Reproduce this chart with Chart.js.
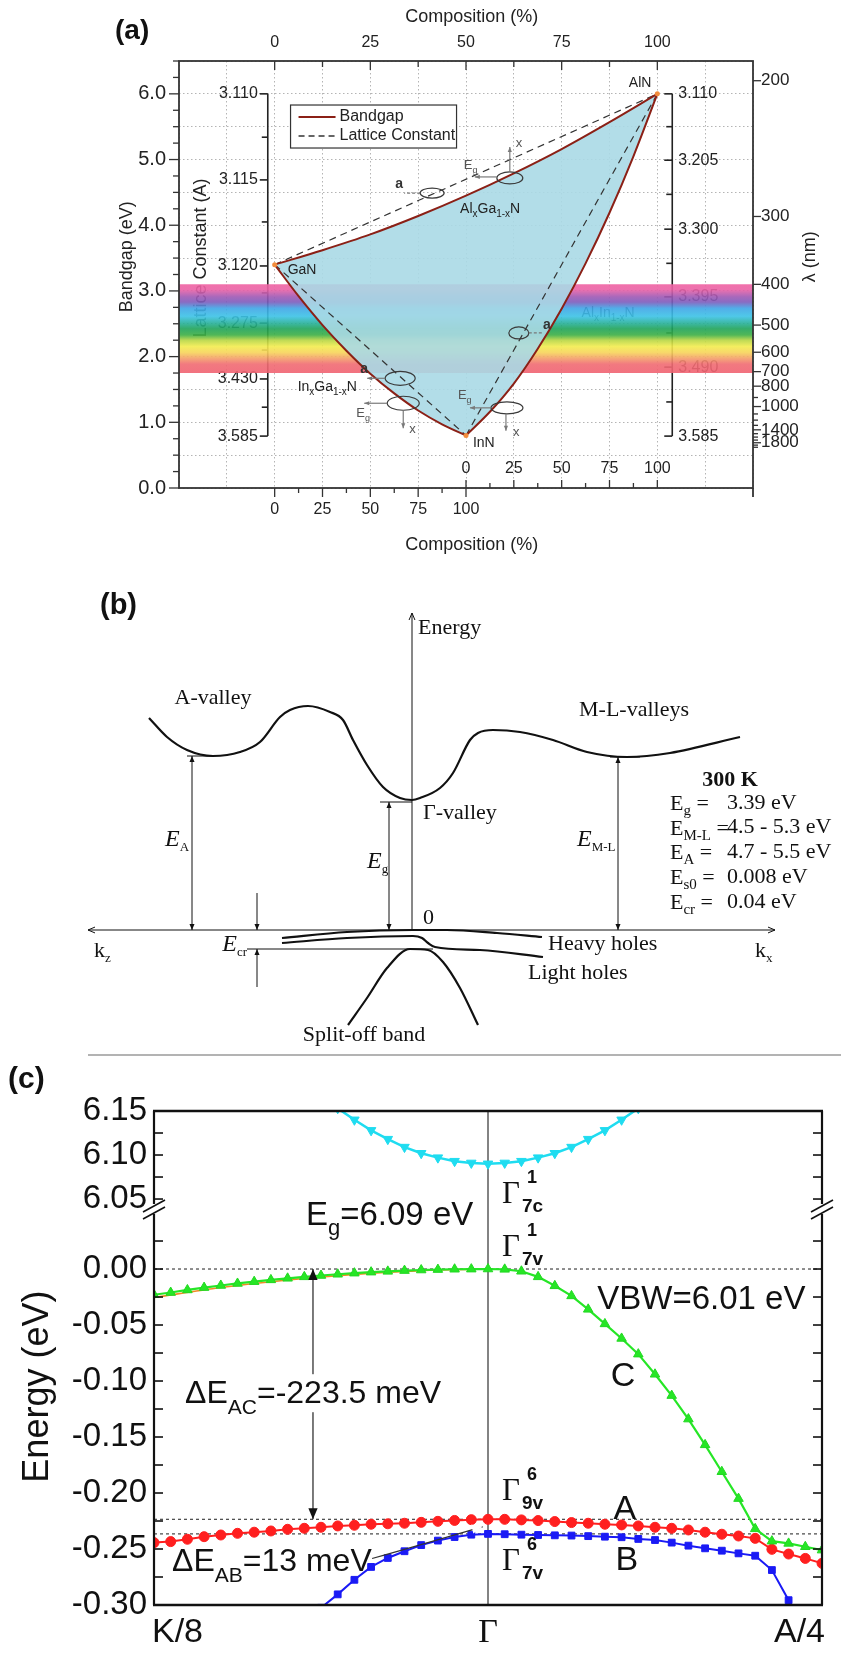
<!DOCTYPE html>
<html>
<head>
<meta charset="utf-8">
<title>Nitride bandgaps and band structure</title>
<script src="https://cdn.jsdelivr.net/npm/chart.js@4.4.1/dist/chart.umd.min.js"></script>
<style>
  html, body { margin: 0; padding: 0; background: #fff; }
  #page { position: relative; width: 841px; height: 1663px; overflow: hidden; }
  #page canvas { position: absolute; left: 0; top: 0; }
</style>
</head>
<body>
<div id="page">
  <canvas id="chartA" width="841" height="1663"></canvas>
  <canvas id="chartB" width="841" height="1663"></canvas>
  <canvas id="chartCU" width="841" height="1663"></canvas>
  <canvas id="chartCL" width="841" height="1663"></canvas>
</div>
<script>
// Composite nitride figure: (a) Eg vs composition, (b) GaN band schematic, (c) AlN bands near Gamma
// Each panel is its own Chart.js chart on a full-page canvas; extra axes/labels come from small plugins.

const SANS = '"Liberation Sans", Arial, Helvetica, sans-serif';
const SERIF = '"Liberation Serif", "Times New Roman", Times, serif';

// ---------- (a) bandgap vs composition ----------
// x = position on the bottom composition axis: InGaN runs 0..100, AlInN 100..200, AlGaN 0..200
const inganX = [0, 12.5, 25, 37.5, 50, 62.5, 75, 87.5, 100];
const inganEg = [3.40, 2.92, 2.48, 2.09, 1.74, 1.44, 1.18, 0.97, 0.80];
const alganX = [0, 25, 50, 75, 100, 125, 150, 175, 200];
const alganEg = [3.40, 3.62, 3.86, 4.14, 4.45, 4.79, 5.16, 5.57, 6.00];
const alinnX = [100, 112.5, 125, 137.5, 150, 162.5, 175, 187.5, 200];
const alinnEg = [0.80, 1.16, 1.59, 2.12, 2.73, 3.42, 4.19, 5.05, 6.00];
const binaryNames = ['GaN', 'AlN', 'InN'];
const binaryX = [0, 200, 100];
const binaryEg = [3.40, 6.00, 0.80];
const visibleEg = [3.10, 1.75];

const compTickLabels = ['0', '25', '50', '75', '100'];
const gapTickLabels = ['0.0', '1.0', '2.0', '3.0', '4.0', '5.0', '6.0'];
const lambdaLabels = [200, 300, 400, 500, 600, 700, 800, 1000, 1400, 1800];
const lambdaMinor = [900, 1100, 1200, 1300, 1500, 1600, 1700, 1900, 2000];
const latLeftLabels = ['3.110', '3.115', '3.120', '3.275', '3.430', '3.585'];
const latLeftEg = [6.00, 4.69, 3.38, 2.51, 1.66, 0.79];
const latLeftMinorEg = [5.34, 4.05, 2.97, 2.10, 1.23];
const latRightLabels = ['3.110', '3.205', '3.300', '3.395', '3.490', '3.585'];
const latRightEg = [6.00, 4.99, 3.94, 2.91, 1.84, 0.79];
const latRightMinorEg = [5.50, 4.47, 3.42, 2.36, 1.31];

// ---------- (b) GaN band schematic (arbitrary k / energy units) ----------
const cbK = [-2.63, -2.45, -2.25, -1.99, -1.72, -1.52, -1.32, -1.22, -1.04, -0.82, -0.69, -0.59, -0.45, -0.29,
  -0.12, 0, 0.08, 0.28, 0.41, 0.58, 0.66, 0.81, 1.08, 1.41, 1.75, 2.15, 2.58, 3.28];
const cbE = [2.12, 1.93, 1.80, 1.74, 1.78, 1.88, 2.13, 2.20, 2.24, 2.18, 2.10, 1.90, 1.65, 1.43,
  1.32, 1.30, 1.32, 1.42, 1.57, 1.90, 1.97, 2.00, 1.98, 1.90, 1.78, 1.73, 1.77, 1.93];
const hhK = [-1.30, -0.65, 0.01, 0.35, 0.85, 1.30];
const hhE = [-0.08, -0.02, 0, 0, -0.03, -0.07];
const lhK = [-1.30, -0.65, 0.01, 0.10, 0.16, 0.23, 0.68, 1.31];
const lhE = [-0.13, -0.08, -0.06, -0.08, -0.13, -0.17, -0.20, -0.27];
const soK = [-0.64, -0.45, -0.25, -0.02, 0.16, 0.31, 0.48, 0.66];
const soE = [-0.95, -0.68, -0.38, -0.19, -0.20, -0.32, -0.58, -0.95];
const paramNames = [['E', 'g', ' = '], ['E', 'M-L', ' ='], ['E', 'A', ' = '], ['E', 's0', ' = '], ['E', 'cr', ' = ']];
const paramValues = ['3.39 eV', '4.5 - 5.3 eV', '4.7 - 5.5 eV', '0.008 eV', '0.04 eV'];

// ---------- (c) AlN bands between K/8 and A/4 (Gamma at 0) ----------
const kGrid = [-1.00, -0.95, -0.90, -0.85, -0.80, -0.75, -0.70, -0.65, -0.60, -0.55, -0.50, -0.45, -0.40,
  -0.35, -0.30, -0.25, -0.20, -0.15, -0.10, -0.05, 0.00, 0.05, 0.10, 0.15, 0.20, 0.25, 0.30, 0.35, 0.40,
  0.45, 0.50, 0.55, 0.60, 0.65, 0.70, 0.75, 0.80, 0.85, 0.90, 0.95, 1.00];
const bandC = [-0.0230, -0.0210, -0.0187, -0.0166, -0.0147, -0.0129, -0.0113, -0.0097, -0.0083, -0.0070,
  -0.0058, -0.0047, -0.0037, -0.0028, -0.0021, -0.0014, -0.0009, -0.0005, -0.0002, -0.0001, 0.0000,
  -0.0003, -0.0020, -0.0070, -0.0150, -0.0240, -0.0360, -0.0490, -0.0620, -0.0760, -0.0940, -0.1130,
  -0.1340, -0.1570, -0.1810, -0.2050, -0.2320, -0.2430, -0.2450, -0.2480, -0.2510];
const bandA = [-0.2443, -0.2434, -0.2413, -0.2390, -0.2375, -0.2360, -0.2350, -0.2339, -0.2324, -0.2315,
  -0.2306, -0.2294, -0.2288, -0.2279, -0.2275, -0.2270, -0.2262, -0.2253, -0.2245, -0.2238, -0.2235,
  -0.2235, -0.2240, -0.2246, -0.2255, -0.2264, -0.2270, -0.2279, -0.2285, -0.2294, -0.2306, -0.2315,
  -0.2330, -0.2350, -0.2368, -0.2384, -0.2405, -0.2503, -0.2545, -0.2584, -0.2628];
const kB = [-0.50, -0.45, -0.40, -0.35, -0.30, -0.25, -0.20, -0.15, -0.10, -0.05, 0.00, 0.05, 0.10, 0.15,
  0.20, 0.25, 0.30, 0.35, 0.40, 0.45, 0.50, 0.55, 0.60, 0.65, 0.70, 0.75, 0.80, 0.85, 0.90, 0.95];
const bandB = [-0.3025, -0.2905, -0.2775, -0.2660, -0.2580, -0.2520, -0.2465, -0.2425, -0.2393, -0.2372,
  -0.2365, -0.2368, -0.2372, -0.2375, -0.2378, -0.2380, -0.2385, -0.2390, -0.2395, -0.2410, -0.2420,
  -0.2443, -0.2470, -0.2494, -0.2515, -0.2539, -0.2560, -0.2688, -0.2957, -0.3400];
const kOrange = [-1.0, -0.8, -0.6, -0.4, -0.2, 0];
const bandOrange = [-0.0255, -0.0165, -0.0098, -0.0048, -0.0014, 0];
const kCond = [-0.45, -0.40, -0.35, -0.30, -0.25, -0.20, -0.15, -0.10, -0.05, 0.00, 0.05, 0.10, 0.15, 0.20,
  0.25, 0.30, 0.35, 0.40, 0.45];
const bandCond = [6.153, 6.140, 6.128, 6.118, 6.109, 6.102, 6.097, 6.093, 6.091, 6.090, 6.091, 6.093, 6.097,
  6.102, 6.109, 6.118, 6.128, 6.140, 6.153];
const refLevels = [0, -0.2235, -0.2365];
const upperTickLabels = ['6.15', '6.10', '6.05'];
const upperMinor = [6.125, 6.075];
const lowerTickLabels = ['0.00', '-0.05', '-0.10', '-0.15', '-0.20', '-0.25', '-0.30'];
const lowerMinor = [0.025, -0.025, -0.075, -0.125, -0.175, -0.225, -0.275];
const kTickLabels = ['K/8', 'Γ', 'A/4'];

// ---------- helpers ----------
const pairs = (xs, ys) => xs.map((v, i) => ({ x: v, y: ys[i] }));
const font = (size, fam, style) => (style ? style + ' ' : '') + size + 'px ' + fam;

function seg(ctx, x1, y1, x2, y2) {
  ctx.beginPath(); ctx.moveTo(x1, y1); ctx.lineTo(x2, y2); ctx.stroke();
}

function text(ctx, s, x, y, f, align, color) {
  ctx.save();
  ctx.font = f; ctx.fillStyle = color || '#111';
  ctx.textAlign = align || 'left'; ctx.textBaseline = 'middle';
  ctx.fillText(s, x, y);
  ctx.restore();
}

// parts: [string, font, baseline offset]; y is the baseline
function rich(ctx, parts, x, y, align, color) {
  ctx.save();
  ctx.textBaseline = 'alphabetic'; ctx.textAlign = 'left'; ctx.fillStyle = color || '#111';
  let w = 0;
  parts.forEach(p => { ctx.font = p[1]; w += ctx.measureText(p[0]).width; });
  let cx = align === 'center' ? x - w / 2 : align === 'right' ? x - w : x;
  parts.forEach(p => { ctx.font = p[1]; ctx.fillText(p[0], cx, y + (p[2] || 0)); cx += ctx.measureText(p[0]).width; });
  ctx.restore();
  return w;
}

function head(ctx, hx, hy, fx, fy, len, open) {
  const a = Math.atan2(hy - fy, hx - fx), w = len * 0.42;
  const bx = hx - len * Math.cos(a), by = hy - len * Math.sin(a);
  const lx = bx + w * Math.sin(a), ly = by - w * Math.cos(a);
  const rx = bx - w * Math.sin(a), ry = by + w * Math.cos(a);
  ctx.beginPath();
  if (open) { ctx.moveTo(lx, ly); ctx.lineTo(hx, hy); ctx.lineTo(rx, ry); ctx.stroke(); }
  else { ctx.moveTo(hx, hy); ctx.lineTo(lx, ly); ctx.lineTo(rx, ry); ctx.closePath(); ctx.fill(); }
}

function rotated(ctx, s, x, y, f, color) {
  ctx.save();
  ctx.translate(x, y); ctx.rotate(-Math.PI / 2);
  text(ctx, s, 0, 0, f, 'center', color);
  ctx.restore();
}

function makeChart(id, datasets, scales, padding, plugin) {
  return new Chart(document.getElementById(id), {
    type: 'line',
    data: { datasets },
    options: {
      responsive: false, animation: false, events: [],
      layout: { autoPadding: false, padding },
      plugins: { legend: { display: false }, tooltip: { enabled: false } },
      scales
    },
    plugins: [plugin]
  });
}

// ================= panel (a) =================
function bandGradient(c) {
  const chart = c.chart, y = chart.scales.y;
  if (!chart.chartArea || !y) return 'rgba(0,0,0,0)';
  const g = chart.ctx.createLinearGradient(0, y.getPixelForValue(visibleEg[0]), 0, y.getPixelForValue(visibleEg[1]));
  [[0, 'rgba(239,98,162,0.9)'], [0.06, 'rgba(234,98,166,0.9)'], [0.14, 'rgba(159,88,180,0.9)'],
   [0.20, 'rgba(125,92,188,0.9)'], [0.27, 'rgba(63,165,230,0.9)'], [0.36, 'rgba(60,194,230,0.9)'],
   [0.44, 'rgba(39,176,152,0.9)'], [0.50, 'rgba(31,163,90,0.9)'], [0.57, 'rgba(61,175,69,0.9)'],
   [0.63, 'rgba(183,214,67,0.9)'], [0.70, 'rgba(242,236,78,0.9)'], [0.77, 'rgba(247,211,90,0.9)'],
   [0.84, 'rgba(243,154,106,0.9)'], [0.90, 'rgba(240,107,114,0.9)'], [1, 'rgba(240,98,114,0.9)']]
    .forEach(s => g.addColorStop(s[0], s[1]));
  return g;
}

function latticeAxis(ctx, y, px, eg, labels, minor, side) {
  ctx.save();
  ctx.strokeStyle = '#222'; ctx.lineWidth = 1.6;
  seg(ctx, px, y.getPixelForValue(eg[0]), px, y.getPixelForValue(eg[eg.length - 1]));
  eg.forEach(e => seg(ctx, px - 8, y.getPixelForValue(e), px, y.getPixelForValue(e)));
  minor.forEach(e => seg(ctx, px - 6, y.getPixelForValue(e), px, y.getPixelForValue(e)));
  labels.forEach((s, i) => {
    const py = y.getPixelForValue(eg[i]);
    if (side === 'left') text(ctx, s, px - 10, py, font(16, SANS), 'right', '#222');
    else text(ctx, s, px + 6, py, font(16, SANS), 'left', '#222');
  });
  ctx.restore();
}

const alloy = (a, b, c, d, e) => [[a, font(14, SANS)], [b, font(10, SANS), 4], [c, font(14, SANS)], [d, font(10, SANS), 4], [e, font(14, SANS)]];

const panelA = {
  id: 'panelA',
  beforeDatasetsDraw(chart) {
    const { ctx, scales: { x, y } } = chart;
    // lattice constant scales sit under the colour band
    latticeAxis(ctx, y, x.getPixelForValue(-3.6), latLeftEg, latLeftLabels, latLeftMinorEg, 'left');
    latticeAxis(ctx, y, x.getPixelForValue(207.8), latRightEg, latRightLabels, latRightMinorEg, 'right');
    rotated(ctx, 'Lattice Constant (A)', x.getPixelForValue(-38.5), y.getPixelForValue(3.5), font(18, SANS), '#222');
    rich(ctx, alloy('Al', 'x', 'In', '1-x', 'N'), x.getPixelForValue(160.4), y.getPixelForValue(2.68) + 5, 'left', '#222');
  },
  afterDatasetsDraw(chart) {
    const { ctx, chartArea: ca, scales: { x, y, xTop, xIn } } = chart;
    const P = (xv, ev) => [x.getPixelForValue(xv), y.getPixelForValue(ev)];
    ctx.save();
    ctx.strokeStyle = '#333'; ctx.fillStyle = '#333'; ctx.lineWidth = 1.8;
    ctx.strokeRect(ca.left, ca.top, ca.width, ca.height);
    seg(ctx, ca.right, ca.bottom, ca.right, ca.bottom + 9);
    ctx.lineWidth = 1.3;
    // bandgap axis, ticks every 0.25 eV
    for (let k = 0; k <= 26; k++) {
      const py = y.getPixelForValue(k * 0.25);
      seg(ctx, ca.left - (k % 4 === 0 ? 10 : 6), py, ca.left, py);
    }
    gapTickLabels.forEach(s => text(ctx, s, ca.left - 13, y.getPixelForValue(+s), font(20, SANS), 'right', '#222'));
    rotated(ctx, 'Bandgap (eV)', ca.left - 52, y.getPixelForValue(3.52), font(18, SANS), '#222');
    // top composition axis (AlGaN)
    for (let k = 0; k <= 8; k++) {
      const px = xTop.getPixelForValue(k * 12.5);
      seg(ctx, px, ca.top, px, ca.top + (k % 2 ? 6 : 9));
    }
    compTickLabels.forEach(s => text(ctx, s, xTop.getPixelForValue(+s), ca.top - 18, font(16, SANS), 'center', '#222'));
    text(ctx, 'Composition (%)', x.getPixelForValue(103), ca.top - 44, font(18, SANS), 'center', '#222');
    // bottom composition axis (InGaN), outward ticks
    for (let k = 0; k <= 8; k++) {
      const px = x.getPixelForValue(k * 12.5);
      seg(ctx, px, ca.bottom, px, ca.bottom + (k % 2 ? 5 : 9));
    }
    compTickLabels.forEach(s => text(ctx, s, x.getPixelForValue(+s), ca.bottom + 22, font(16, SANS), 'center', '#222'));
    text(ctx, 'Composition (%)', x.getPixelForValue(103), ca.bottom + 57, font(18, SANS), 'center', '#222');
    // inner AlInN composition scale, inward ticks
    for (let k = 0; k <= 8; k++) {
      const px = xIn.getPixelForValue(k * 12.5);
      seg(ctx, px, ca.bottom, px, ca.bottom - (k % 2 ? 5 : 8));
    }
    compTickLabels.forEach(s => text(ctx, s, xIn.getPixelForValue(+s), ca.bottom - 19, font(16, SANS), 'center', '#222'));
    // wavelength axis, lambda = 1240 / Eg
    lambdaLabels.forEach(l => {
      const py = y.getPixelForValue(1240 / l);
      seg(ctx, ca.right, py, ca.right + 8, py);
      text(ctx, String(l), ca.right + 8, py, font(17, SANS), 'left', '#222');
    });
    lambdaMinor.forEach(l => { const py = y.getPixelForValue(1240 / l); seg(ctx, ca.right, py, ca.right + 5, py); });
    rotated(ctx, 'λ (nm)', ca.right + 57, y.getPixelForValue(3.52), font(18, SANS), '#222');

    // legend
    const [lx, ly] = P(8.3, 5.83);
    ctx.fillStyle = '#fff'; ctx.fillRect(lx, ly, 166, 43);
    ctx.strokeStyle = '#333'; ctx.lineWidth = 1.2; ctx.strokeRect(lx, ly, 166, 43);
    ctx.strokeStyle = '#8b2016'; ctx.lineWidth = 2; seg(ctx, lx + 8, ly + 12, lx + 45, ly + 12);
    ctx.strokeStyle = '#333'; ctx.lineWidth = 1.3; ctx.setLineDash([6, 4]); seg(ctx, lx + 8, ly + 31, lx + 45, ly + 31); ctx.setLineDash([]);
    text(ctx, 'Bandgap', lx + 49, ly + 12, font(16, SANS), 'left', '#222');
    text(ctx, 'Lattice Constant', lx + 49, ly + 31, font(16, SANS), 'left', '#222');

    // binary and alloy names
    text(ctx, binaryNames[0], P(6.8, 3.32)[0], P(6.8, 3.32)[1], font(14, SANS), 'left', '#222');
    text(ctx, binaryNames[1], P(196.9, 6.16)[0], P(196.9, 6.16)[1], font(14, SANS), 'right', '#222');
    text(ctx, binaryNames[2], P(103.6, 0.68)[0], P(103.6, 0.68)[1], font(14, SANS), 'left', '#222');
    rich(ctx, alloy('Al', 'x', 'Ga', '1-x', 'N'), P(96.9, 4.26)[0], P(96.9, 4.26)[1] + 5, 'left', '#222');
    rich(ctx, alloy('In', 'x', 'Ga', '1-x', 'N'), P(12, 1.55)[0], P(12, 1.55)[1] + 5, 'left', '#222');

    // small read-out ellipses with their a / Eg / x pointers
    ctx.lineWidth = 1.2;
    const ell = (xv, ev, rx, ry) => {
      const [cx, cy] = P(xv, ev);
      ctx.strokeStyle = '#3a3a3a'; ctx.beginPath(); ctx.ellipse(cx, cy, rx, ry, 0, 0, Math.PI * 2); ctx.stroke();
      ctx.strokeStyle = '#7a7a7a'; ctx.fillStyle = '#7a7a7a';
      return [cx, cy];
    };
    const pointer = (x1, y1, x2, y2) => { seg(ctx, x1, y1, x2, y2); head(ctx, x2, y2, x1, y1, 5); };
    const egLabel = (px, py) => rich(ctx, [['E', font(13, SANS)], ['g', font(9, SANS), 4]], px, py + 4, 'left', '#555');
    const aLabel = (px, py) => text(ctx, 'a', px, py, font(14, SANS, 'bold'), 'center', '#333');
    const xLabel = (px, py) => text(ctx, 'x', px, py, font(13, SANS), 'left', '#555');
    let c;
    c = ell(82.3, 4.49, 12, 5);
    ctx.setLineDash([3, 2]); seg(ctx, c[0] - 12, c[1], c[0] - 28, c[1]); ctx.setLineDash([]);
    aLabel(c[0] - 33, c[1] - 9);
    c = ell(122.9, 4.72, 13, 6);
    pointer(c[0] - 13, c[1] - 1, c[0] - 35, c[1] - 1); egLabel(c[0] - 46, c[1] - 13);
    pointer(c[0], c[1] - 6, c[0], c[1] - 31); xLabel(c[0] + 6, c[1] - 35);
    c = ell(65.6, 1.67, 15, 7);
    pointer(c[0] - 15, c[1], c[0] - 33, c[1]); aLabel(c[0] - 36, c[1] - 9);
    c = ell(67.2, 1.29, 16, 7);
    pointer(c[0] - 16, c[1], c[0] - 39, c[1]); egLabel(c[0] - 47, c[1] + 10);
    pointer(c[0], c[1] + 7, c[0], c[1] + 25); xLabel(c[0] + 6, c[1] + 26);
    c = ell(127.6, 2.36, 10, 6);
    ctx.setLineDash([3, 2]); seg(ctx, c[0] + 10, c[1], c[0] + 24, c[1]); ctx.setLineDash([]);
    aLabel(c[0] + 28, c[1] - 8);
    c = ell(121.4, 1.22, 16, 6);
    pointer(c[0] - 16, c[1], c[0] - 37, c[1]); egLabel(c[0] - 49, c[1] - 13);
    pointer(c[0] - 1, c[1] + 6, c[0] - 1, c[1] + 23); xLabel(c[0] + 6, c[1] + 25);

    text(ctx, '(a)', 115, ca.top - 30, font(28, SANS, 'bold'), 'left', '#111');
    ctx.restore();
  }
};

const gridA = { color: '#b4b4b4', lineWidth: 1, drawTicks: false };
const borderA = { display: false, dash: [1.5, 2.5] };
makeChart('chartA', [
  { label: 'AlGaN', data: pairs(alganX, alganEg), borderColor: '#8b2016', borderWidth: 2, pointRadius: 0, cubicInterpolationMode: 'monotone', fill: false, order: 1 },
  { label: 'InGaN', data: pairs(inganX, inganEg), borderColor: '#8b2016', borderWidth: 2, pointRadius: 0, cubicInterpolationMode: 'monotone', fill: false, order: 1 },
  { label: 'AlInN', data: pairs(alinnX, alinnEg), borderColor: '#8b2016', borderWidth: 2, pointRadius: 0, cubicInterpolationMode: 'monotone', fill: false, order: 1 },
  { label: 'a GaN-AlN', data: pairs([binaryX[0], binaryX[1]], [binaryEg[0], binaryEg[1]]), borderColor: '#333', borderWidth: 1.2, borderDash: [7, 5], pointRadius: 0, fill: false, order: 2 },
  { label: 'a AlN-InN', data: pairs([binaryX[2], binaryX[1]], [binaryEg[2], binaryEg[1]]), borderColor: '#333', borderWidth: 1.2, borderDash: [7, 5], pointRadius: 0, fill: false, order: 2 },
  { label: 'a GaN-InN', data: pairs([binaryX[0], binaryX[2]], [binaryEg[0], binaryEg[2]]), borderColor: '#333', borderWidth: 1.2, borderDash: [7, 5], pointRadius: 0, fill: false, order: 2 },
  { label: 'binaries', data: pairs(binaryX, binaryEg), showLine: false, pointRadius: 2.5, pointBackgroundColor: '#f28c3c', pointBorderWidth: 0, order: 0 },
  { label: 'alloy range', data: pairs(inganX.concat(alinnX.slice(1)), inganEg.concat(alinnEg.slice(1))), borderWidth: 0, pointRadius: 0, fill: 0, backgroundColor: 'rgba(170,217,230,0.9)', order: 5 },
  { label: 'visible', data: [{ x: -50, y: visibleEg[0] }, { x: 250, y: visibleEg[0] }], borderWidth: 0, pointRadius: 0, fill: { value: visibleEg[1] }, backgroundColor: bandGradient, order: 6 }
], {
  x: { type: 'linear', min: -50, max: 250, ticks: { display: false, stepSize: 25 }, grid: gridA, border: borderA },
  y: { type: 'linear', min: 0, max: 6.5, ticks: { display: false, stepSize: 0.5 }, grid: gridA, border: borderA },
  xTop: { type: 'linear', axis: 'x', position: 'top', min: -25, max: 125, display: false },
  xIn: { type: 'linear', axis: 'x', position: 'bottom', min: -150, max: 150, display: false }
}, { left: 179, right: 88, top: 61, bottom: 1175 }, panelA);

// ================= panel (b) =================
const panelB = {
  id: 'panelB',
  afterDatasetsDraw(chart) {
    const { ctx, chartArea: ca, scales: { x, y } } = chart;
    const P = (k, e) => [x.getPixelForValue(k), y.getPixelForValue(e)];
    ctx.save();
    ctx.strokeStyle = '#111'; ctx.fillStyle = '#111'; ctx.lineWidth = 1;
    // axes
    const o = P(0, 0), top = P(0, 3.17), l = P(-3.24, 0), r = P(3.63, 0);
    seg(ctx, o[0], o[1], top[0], top[1]); head(ctx, top[0], top[1], o[0], o[1], 7, true);
    seg(ctx, l[0], l[1], r[0], r[1]);
    head(ctx, l[0], l[1], r[0], r[1], 7, true); head(ctx, r[0], r[1], l[0], l[1], 7, true);
    // valley energies measured from the valence band top
    [[-2.20, cbE[3], -2.25, -1.99], [-0.23, cbE[15] - 0.02, -0.32, 0], [2.06, cbE[25], 1.98, 2.28]].forEach(g => {
      const a = P(g[0], 0), b = P(g[0], g[1]);
      seg(ctx, a[0], a[1], b[0], b[1]);
      head(ctx, a[0], a[1], b[0], b[1], 6); head(ctx, b[0], b[1], a[0], a[1], 6);
      seg(ctx, P(g[2], g[1])[0], b[1], P(g[3], g[1])[0], b[1]);
    });
    // crystal-field splitting
    const cr = soE[3];
    let a = P(-1.55, 0.37), b = P(-1.55, 0);
    seg(ctx, a[0], a[1], b[0], b[1]); head(ctx, b[0], b[1], a[0], a[1], 6);
    a = P(-1.55, -0.57); b = P(-1.55, cr);
    seg(ctx, a[0], a[1], b[0], b[1]); head(ctx, b[0], b[1], a[0], a[1], 6);
    seg(ctx, P(-1.65, cr)[0], b[1], P(0.21, cr)[0], b[1]);

    const f22 = font(22, SERIF), fi = font(24, SERIF, 'italic'), fs = font(13, SERIF);
    const T = (s, k, e, al, f) => { const p = P(k, e); text(ctx, s, p[0], p[1], f || f22, al || 'left', '#111'); };
    T('Energy', 0.06, 3.02);
    T('A-valley', -1.99, 2.32, 'center');
    T('M-L-valleys', 2.22, 2.20, 'center');
    T('Γ-valley', 0.11, 1.17);
    T('0', 0.11, 0.12);
    T('Heavy holes', 1.36, -0.14);
    T('Light holes', 1.16, -0.43);
    T('Split-off band', -0.48, -1.05, 'center');
    T('300 K', 3.18, 1.50, 'center', font(22, SERIF, 'bold'));
    let p = P(-2.47, 0.92); rich(ctx, [['E', fi], ['A', fs, 5]], p[0], p[1] + 8);
    p = P(-0.45, 0.70); rich(ctx, [['E', fi], ['g', fs, 5]], p[0], p[1] + 8);
    p = P(1.65, 0.92); rich(ctx, [['E', fi], ['M-L', fs, 5]], p[0], p[1] + 8);
    p = P(-1.65, -0.13); rich(ctx, [['E', fi], ['cr', fs, 5]], p[0], p[1] + 8, 'right');
    p = P(-3.18, -0.20); rich(ctx, [['k', f22], ['z', fs, 5]], p[0], p[1] + 7);
    p = P(3.43, -0.20); rich(ctx, [['k', f22], ['x', fs, 5]], p[0], p[1] + 7);
    paramNames.forEach((n, i) => {
      const e = 1.27 - i * 0.247;
      const q = P(2.58, e);
      rich(ctx, [[n[0], f22], [n[1], font(15, SERIF), 5], [n[2], f22]], q[0], q[1] + 7);
      T(paramValues[i], 3.15, e);
    });
    text(ctx, '(b)', 100, ca.top - 4, font(29, SANS, 'bold'), 'left', '#111');
    // panel separator
    ctx.strokeStyle = '#9a9a9a'; ctx.lineWidth = 1.5;
    seg(ctx, 88, ca.bottom + 5, 841, ca.bottom + 5);
    ctx.restore();
  }
};

const bandLine = (label, k, e) => ({ label, data: pairs(k, e), borderColor: '#111', borderWidth: 2.2, pointRadius: 0, cubicInterpolationMode: 'monotone', fill: false });
makeChart('chartB', [
  bandLine('conduction band', cbK, cbE),
  bandLine('heavy holes', hhK, hhE),
  bandLine('light holes', lhK, lhE),
  bandLine('split-off', soK, soE)
], {
  x: { type: 'linear', min: -4, max: 4, display: false },
  y: { type: 'linear', min: -1.2, max: 3.2, display: false }
}, { left: 12, right: 29, top: 610, bottom: 613 }, panelB);

// ================= panel (c) =================
const tickFont = font(33, SANS);
function frameSides(ctx, ca, y, majors, minors) {
  ctx.strokeStyle = '#111'; ctx.lineWidth = 2.2;
  seg(ctx, ca.left, ca.top, ca.left, ca.bottom);
  seg(ctx, ca.right, ca.top, ca.right, ca.bottom);
  ctx.lineWidth = 1.6;
  majors.concat(minors).forEach(v => {
    const py = y.getPixelForValue(v);
    seg(ctx, ca.left, py, ca.left + 9, py);
    seg(ctx, ca.right - 9, py, ca.right, py);
  });
  majors.forEach(v => text(ctx, v.toFixed(2), ca.left - 7, y.getPixelForValue(v), tickFont, 'right', '#111'));
}
function gammaLine(ctx, ca, x) {
  ctx.save(); ctx.strokeStyle = '#5a5a5a'; ctx.lineWidth = 1.5;
  seg(ctx, x.getPixelForValue(0), ca.top, x.getPixelForValue(0), ca.bottom);
  ctx.restore();
}
function gammaLabel(ctx, px, pyc, sup, sub) {
  ctx.save();
  ctx.fillStyle = '#111'; ctx.textBaseline = 'alphabetic'; ctx.textAlign = 'left';
  ctx.font = font(31, SERIF); ctx.fillText('Γ', px, pyc + 10);
  ctx.font = font(18, SANS, 'bold'); ctx.fillText(sup, px + 25, pyc - 10);
  ctx.font = font(19, SANS, 'bold'); ctx.fillText(sub, px + 20, pyc + 19);
  ctx.restore();
}

const panelCU = {
  id: 'panelCU',
  beforeDatasetsDraw(chart) { gammaLine(chart.ctx, chart.chartArea, chart.scales.x); },
  afterDatasetsDraw(chart) {
    const { ctx, chartArea: ca, scales: { x, y } } = chart;
    ctx.save();
    frameSides(ctx, ca, y, upperTickLabels.map(Number), upperMinor);
    ctx.lineWidth = 2.6; seg(ctx, ca.left - 1, ca.top, ca.right + 1, ca.top);
    gammaLabel(ctx, x.getPixelForValue(0.042), y.getPixelForValue(6.0568), '1', '7c');
    ctx.restore();
  }
};

const panelCL = {
  id: 'panelCL',
  beforeDatasetsDraw(chart) {
    const { ctx, chartArea: ca, scales: { x, y } } = chart;
    gammaLine(ctx, ca, x);
    ctx.save(); ctx.strokeStyle = '#444'; ctx.lineWidth = 1.2; ctx.setLineDash([3, 3]);
    refLevels.forEach(e => seg(ctx, ca.left, y.getPixelForValue(e), ca.right, y.getPixelForValue(e)));
    ctx.restore();
  },
  afterDatasetsDraw(chart) {
    const { ctx, chartArea: ca, scales: { x, y } } = chart;
    const P = (k, e) => [x.getPixelForValue(k), y.getPixelForValue(e)];
    ctx.save();
    frameSides(ctx, ca, y, lowerTickLabels.map(Number), lowerMinor);
    ctx.lineWidth = 2.6; seg(ctx, ca.left - 1, ca.bottom, ca.right + 1, ca.bottom);
    // axis break marks
    [ca.left, ca.right].forEach(bx => {
      ctx.fillStyle = '#fff'; ctx.fillRect(bx - 3, ca.top - 7, 6, 10);
      ctx.strokeStyle = '#111'; ctx.lineWidth = 1.6;
      seg(ctx, bx - 11, ca.top + 1, bx + 11, ca.top - 11);
      seg(ctx, bx - 11, ca.top + 8, bx + 11, ca.top - 4);
    });
    // k-path labels
    text(ctx, kTickLabels[0], ca.left - 2, ca.bottom + 28, font(34, SANS), 'left');
    text(ctx, kTickLabels[1], x.getPixelForValue(0), ca.bottom + 28, font(34, SERIF), 'center');
    text(ctx, kTickLabels[2], ca.right + 3, ca.bottom + 28, font(34, SANS), 'right');
    rotated(ctx, 'Energy (eV)', ca.left - 116, y.getPixelForValue(-0.105), font(36, SANS), '#111');
    text(ctx, '(c)', 8, 1080, font(30, SANS, 'bold'), 'left');

    const big = font(33, SANS), small = font(22, SANS);
    let p = P(-0.545, 0.050);
    rich(ctx, [['E', big], ['g', small, 10], ['=6.09 eV', big]], p[0], p[1] + 12);
    p = P(0.327, -0.025); rich(ctx, [['VBW=6.01 eV', big]], p[0], p[1] + 12);
    [['C', 0.404, -0.096], ['A', 0.41, -0.215], ['B', 0.416, -0.26]].forEach(t => {
      const q = P(t[1], t[2]); text(ctx, t[0], q[0], q[1], font(34, SANS), 'center');
    });
    gammaLabel(ctx, P(0.042, 0)[0], P(0, 0.0206)[1], '1', '7v');
    gammaLabel(ctx, P(0.042, 0)[0], P(0, -0.197)[1], '6', '9v');
    gammaLabel(ctx, P(0.042, 0)[0], P(0, -0.260)[1], '6', '7v');

    // Delta E_AC arrow between the C and A tops at Gamma
    ctx.strokeStyle = '#222'; ctx.fillStyle = '#111'; ctx.lineWidth = 1.2;
    const t0 = P(-0.524, refLevels[0]), t1 = P(-0.524, refLevels[1]);
    seg(ctx, t0[0], t0[1], t1[0], t1[1]);
    head(ctx, t0[0], t0[1], t1[0], t1[1], 11); head(ctx, t1[0], t1[1], t0[0], t0[1], 11);
    p = P(-0.907, -0.110);
    const acParts = [['ΔE', font(32, SANS)], ['AC', font(21, SANS), 11], ['=-223.5 meV', font(32, SANS)]];
    ctx.font = font(32, SANS);
    ctx.fillStyle = '#fff'; ctx.fillRect(p[0] - 2, p[1] - 18, 258, 38);
    rich(ctx, acParts, p[0], p[1] + 11);
    // Delta E_AB pointer
    p = P(-0.946, -0.26);
    rich(ctx, [['ΔE', font(32, SANS)], ['AB', font(21, SANS), 11], ['=13 meV', font(32, SANS)]], p[0], p[1] + 11);
    const a1 = P(-0.347, -0.2585), a2 = P(-0.204, -0.2465), a3 = P(-0.015, -0.2300);
    ctx.strokeStyle = '#333'; ctx.lineWidth = 1.1;
    ctx.beginPath(); ctx.moveTo(a1[0], a1[1]); ctx.quadraticCurveTo(a2[0], a2[1], a3[0], a3[1]); ctx.stroke();
    head(ctx, a3[0], a3[1], a2[0], a2[1] - 4, 11);
    ctx.restore();
  }
};

const cScalesX = { type: 'linear', min: -1, max: 1, display: false };
makeChart('chartCU', [
  { label: 'Gamma7c', data: pairs(kCond, bandCond), borderColor: '#1fdcf0', borderWidth: 2.5, pointStyle: 'triangle', pointRotation: 180, pointRadius: 5.5, pointBackgroundColor: '#1fdcf0', pointBorderColor: '#1fdcf0', pointBorderWidth: 1, fill: false }
], {
  x: cScalesX,
  y: { type: 'linear', min: 6.0364, max: 6.15, display: false }
}, { left: 154, right: 19, top: 1111, bottom: 452 }, panelCU);

makeChart('chartCL', [
  { label: 'C', data: pairs(kGrid, bandC), borderColor: '#26e626', borderWidth: 2.2, pointStyle: 'triangle', pointRadius: 5.5, pointBackgroundColor: '#26e626', pointBorderColor: '#22d822', pointBorderWidth: 1, fill: false, order: 1 },
  { label: 'C (other branch)', data: pairs(kOrange, bandOrange), borderColor: '#f08a24', borderWidth: 1.6, pointRadius: 0, cubicInterpolationMode: 'monotone', fill: false, order: 4 },
  { label: 'A', data: pairs(kGrid, bandA), borderColor: '#ff1f1f', borderWidth: 2, pointStyle: 'circle', pointRadius: 5, pointBackgroundColor: '#ff1f1f', pointBorderColor: '#ff1f1f', pointBorderWidth: 1, fill: false, order: 2 },
  { label: 'B', data: pairs(kB, bandB), borderColor: '#1a1af5', borderWidth: 2, pointStyle: 'rect', pointRadius: 4.8, pointBackgroundColor: '#1a1af5', pointBorderColor: '#1a1af5', pointBorderWidth: 1, fill: false, order: 3 }
], {
  x: cScalesX,
  y: { type: 'linear', min: -0.30, max: 0.0518, display: false }
}, { left: 154, right: 19, top: 1211, bottom: 58 }, panelCL);
</script>
</body>
</html>
